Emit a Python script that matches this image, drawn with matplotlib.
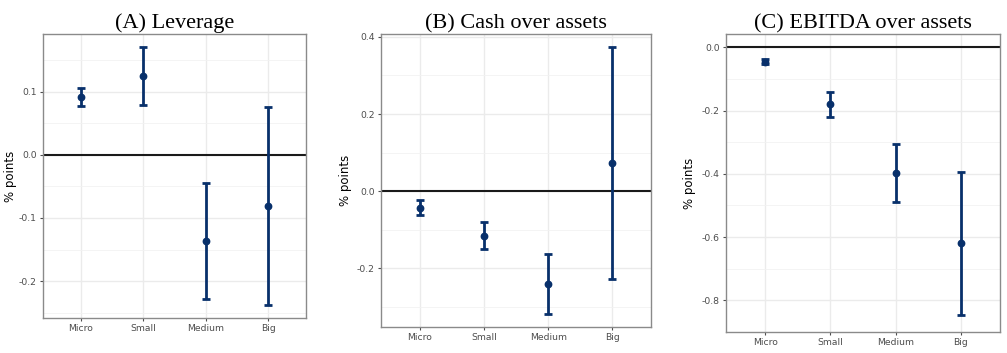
import matplotlib
matplotlib.use('Agg')
import matplotlib.pyplot as plt
import numpy as np

# data
categorias = ['Micro', 'Small', 'Medium', 'Big']

lev_est = [0.091, 0.125, -0.137, -0.081]
lev_hi = [0.106, 0.171, -0.044, 0.076]
lev_lo = [0.077, 0.079, -0.229, -0.238]

cash_est = [-0.043, -0.116, -0.242, 0.072]
cash_hi = [-0.022, -0.080, -0.164, 0.373]
cash_lo = [-0.062, -0.151, -0.318, -0.229]

ebitda_est = [-0.046, -0.179, -0.398, -0.620]
ebitda_hi = [-0.038, -0.140, -0.307, -0.394]
ebitda_lo = [-0.054, -0.219, -0.488, -0.845]

titulos = ['(A) Leverage', '(B) Cash over assets', '(C) EBITDA over assets']
ticks_y = [[-0.2, -0.1, 0.0, 0.1],
           [-0.2, 0.0, 0.2, 0.4],
           [-0.8, -0.6, -0.4, -0.2, 0.0]]
rotulos_y = [['-0.2', '-0.1', '0.0', '0.1'],
             ['-0.2', '0.0', '0.2', '0.4'],
             ['-0.8', '-0.6', '-0.4', '-0.2', '0.0']]

cor = '#08306b'
W, H = 1007, 353
caixas = [(43, 306, 34, 318), (381, 651, 34, 327), (726, 1000, 34, 332)]
pos_label = [-0.099, -0.107, -0.109]

fig = plt.figure(figsize=(W / 100, H / 100), dpi=100)

series = [(lev_est, lev_lo, lev_hi), (cash_est, cash_lo, cash_hi),
          (ebitda_est, ebitda_lo, ebitda_hi)]

for i, (est, lo, hi) in enumerate(series):
    l, r, t, b = caixas[i]
    ax = fig.add_axes([l / W, (H - b) / H, (r - l) / W, (b - t) / H])
    x = np.arange(1, len(categorias) + 1)
    est = np.array(est)
    lo = np.array(lo)
    hi = np.array(hi)

    # limites no estilo ggplot (5% de expansao, incluindo a linha em zero)
    ymin = min(lo.min(), 0)
    ymax = max(hi.max(), 0)
    d = (ymax - ymin) * 0.05
    ax.set_ylim(ymin - d, ymax + d)
    ax.set_xlim(0.4, len(categorias) + 0.6)

    ax.set_yticks(ticks_y[i])
    ax.set_yticklabels(rotulos_y[i])
    passo = ticks_y[i][1] - ticks_y[i][0]
    menores = np.arange(ticks_y[i][0] - passo / 2, ymax + d, passo)
    ax.set_yticks(menores, minor=True)
    ax.set_xticks(x)
    ax.set_xticklabels(categorias)

    ax.grid(True, which='major', color='#ebebeb', linewidth=1.0, zorder=0)
    ax.grid(True, which='minor', axis='y', color='#f2f2f2', linewidth=0.6, zorder=0)
    ax.set_axisbelow(True)

    ax.axhline(0, color='#1a1a1a', linewidth=1.5, zorder=2)
    ax.errorbar(x, est, yerr=[est - lo, hi - est], fmt='o', color=cor,
                ecolor=cor, elinewidth=2, capsize=2.6, capthick=2,
                markersize=4.6, zorder=3)

    for s in ax.spines.values():
        s.set_color('#8a8a8a')
        s.set_linewidth(1.0)
    ax.tick_params(axis='both', which='major', length=2.5, width=0.8,
                   color='#4d4d4d', labelcolor='#4d4d4d', labelsize=6.7, pad=2)
    ax.tick_params(axis='both', which='minor', length=0)

    ax.set_ylabel('% points', fontsize=8.5, color='black')
    ax.yaxis.set_label_coords(pos_label[i], 0.5)
    ax.set_title(titulos[i], fontsize=16, family='Liberation Serif', pad=4)

plt.savefig('out.png', dpi=100)
